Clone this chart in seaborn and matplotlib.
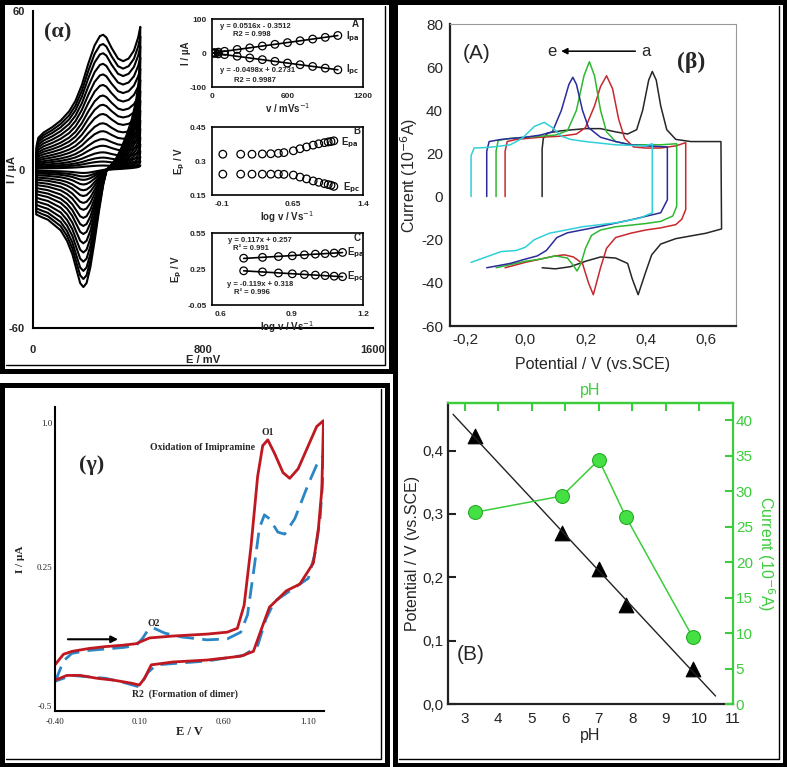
import matplotlib
matplotlib.use("Agg")
import matplotlib.pyplot as plt
from matplotlib.patches import Rectangle
from matplotlib.lines import Line2D
from matplotlib.ticker import FuncFormatter
import numpy as np
import seaborn as sns

# ---------------- panel (alpha): cyclic voltammograms at rising scan rate
# shape of the largest voltammogram (E in mV, I in uA)
alpha_E = [15, 17, 25, 50, 90, 130, 170, 200, 230, 260, 290, 315, 330, 345, 370, 400, 424, 450, 475, 495, 505,
           503, 497, 485, 465, 440, 415, 390, 365, 347, 330, 310, 290, 270, 252, 237, 222, 205, 185, 160, 130,
           100, 70, 40, 15, 15]
alpha_I = [0, 9, 12, 14, 16, 18.5, 22, 26, 32, 40, 47, 50.5, 51, 50, 46, 42, 41, 42, 45, 50, 54,
           42, 33, 26, 19, 13, 8, 4, 1.5, 0, -6, -16, -27, -37, -43, -44.5, -43, -38, -32, -27, -23,
           -21, -19, -18, -17, 0]
# anodic peak current of each voltammogram
alpha_ipa = [51, 47.5, 44, 40, 36, 32, 28, 24.5, 21, 17.5, 14.5, 11.5, 9, 6.5, 4.5, 3, 1.5]

# inset A: peak current vs scan rate
insA_v = [10, 25, 50, 100, 200, 300, 400, 500, 600, 700, 800, 900, 1000]
insA_ipa = [0.5, 1.0, 2.5, 5.0, 10.5, 15.0, 20.5, 25.5, 30.5, 36.0, 41.0, 46.0, 51.5]
insA_ipc = [-0.5, -1.0, -2.5, -4.8, -9.5, -14.5, -19.5, -24.5, -29.5, -34.5, -39.5, -44.5, -49.5]

# inset B: peak potential vs log v
insB_logv = [-0.09, 0.10, 0.22, 0.33, 0.42, 0.50, 0.56, 0.66, 0.73, 0.80, 0.87, 0.93, 0.99, 1.03, 1.06, 1.09]
insB_epa = [0.330, 0.330, 0.330, 0.331, 0.332, 0.334, 0.337, 0.345, 0.354, 0.362, 0.370, 0.376, 0.381, 0.384,
            0.386, 0.389]
insB_epc = [0.242, 0.242, 0.242, 0.242, 0.242, 0.242, 0.241, 0.238, 0.229, 0.221, 0.212, 0.206, 0.200, 0.196,
            0.193, 0.188]

# inset C: linear part of inset B
insC_logv = [0.699, 0.778, 0.845, 0.903, 0.954, 1.0, 1.041, 1.079, 1.114]
insC_epa = [0.340, 0.347, 0.354, 0.360, 0.368, 0.374, 0.378, 0.383, 0.388]
insC_epc = [0.235, 0.226, 0.217, 0.210, 0.204, 0.199, 0.195, 0.190, 0.186]

# ---------------- panel (beta) A: voltammograms a..e
a_E = [0.056, 0.056, 0.06, 0.075, 0.12, 0.20, 0.25, 0.30, 0.34, 0.37, 0.39, 0.41, 0.422, 0.435, 0.45, 0.47, 0.50,
       0.55, 0.65, 0.652, 0.60, 0.50, 0.45, 0.42, 0.40, 0.375, 0.355, 0.34, 0.30, 0.25, 0.20, 0.15, 0.10, 0.056]
a_I = [0, 22, 27, 29.5, 30.5, 31.5, 31.5, 30, 29, 31, 40, 54, 58, 54, 42, 31, 26.5, 25.5, 25.5, -15, -17, -19.5,
       -22, -27, -35, -45.5, -38, -31, -28.5, -28, -30, -32.5, -33.5, -33]
b_E = [-0.067, -0.067, -0.06, -0.03, 0.05, 0.12, 0.17, 0.20, 0.23, 0.25, 0.27, 0.29, 0.31, 0.33, 0.36, 0.40,
       0.45, 0.50, 0.533, 0.533, 0.52, 0.50, 0.45, 0.40, 0.35, 0.30, 0.27, 0.25, 0.226, 0.21, 0.19, 0.16, 0.13,
       0.10, 0.05, 0.0, -0.067]
b_I = [0, 21, 25.5, 26.5, 27.5, 28, 29, 32, 42, 51, 56, 50, 36, 27, 23, 22.5, 22.5, 23.5, 25, -6, -10.5, -13,
       -14.5, -15.5, -17, -19, -24, -33, -45.5, -40, -31, -28, -27, -27.5, -29, -30.5, -33]
c_E = [-0.097, -0.097, -0.09, -0.05, 0.05, 0.10, 0.14, 0.17, 0.195, 0.213, 0.23, 0.25, 0.27, 0.30, 0.35, 0.40,
       0.45, 0.503, 0.503, 0.49, 0.45, 0.40, 0.30, 0.25, 0.22, 0.20, 0.185, 0.172, 0.16, 0.14, 0.10, 0.05, 0.0,
       -0.097]
c_I = [0, 21, 26, 27, 28, 28.5, 30.5, 40, 56, 62.5, 56, 40, 30, 25.5, 24, 24, 24, 24.5, -4.5, -9, -11.5, -12.5,
       -14, -15.5, -18, -24, -31, -34.5, -32, -28.5, -27.5, -29, -30, -33]
d_E = [-0.128, -0.128, -0.12, -0.08, 0.0, 0.05, 0.09, 0.12, 0.145, 0.158, 0.17, 0.19, 0.21, 0.25, 0.30, 0.35,
       0.40, 0.472, 0.472, 0.45, 0.36, 0.25, 0.14, 0.105, 0.07, 0.04, 0.0, -0.05, -0.128]
d_I = [0, 21, 25.5, 26.5, 27.5, 28.5, 30, 40, 52, 55.3, 52, 40, 32, 27.5, 25.5, 24, 23.5, 23, -1.5, -7.5, -10.5,
       -13.8, -16.8, -19, -25, -27.5, -29, -31, -33]
e_E = [-0.18, -0.18, -0.17, -0.12, -0.05, -0.01, 0.03, 0.063, 0.09, 0.12, 0.15, 0.20, 0.30, 0.40, 0.422, 0.422,
       0.38, 0.31, 0.19, 0.08, 0.03, 0.0, -0.03, -0.08, -0.12, -0.18]
e_I = [0, 19, 22.5, 22.8, 24, 27, 32.5, 34.4, 32, 28, 26.5, 25.5, 24, 23.5, 24.5, -7.5, -10, -12, -14, -17, -20,
       -23.5, -25, -25.5, -27.5, -30.5]

# ---------------- panel (beta) B: effect of pH
ph = [3.3, 5.9, 7.0, 7.8, 9.8]
ph_potential = [0.423, 0.270, 0.213, 0.157, 0.056]
ph_current = [27.0, 29.3, 34.4, 26.4, 9.4]
fit_ph = [2.65, 10.48]

# ---------------- panel (gamma): imipramine voltammograms
g_red_E = [-0.40, -0.35, -0.30, -0.20, -0.10, 0.00, 0.08, 0.12, 0.16, 0.30, 0.50, 0.62, 0.68, 0.72, 0.76, 0.80,
           0.83, 0.86, 0.90, 0.95, 0.99, 1.04, 1.10, 1.15, 1.19, 1.18, 1.16, 1.13, 1.05, 0.97, 0.87, 0.82, 0.775,
           0.70, 0.50, 0.30, 0.17, 0.13, 0.10, 0.05, -0.05, -0.15, -0.25, -0.33, -0.40]
g_red_I = [-0.26, -0.205, -0.19, -0.175, -0.165, -0.158, -0.15, -0.135, -0.12, -0.11, -0.10, -0.09, -0.07, 0.05,
           0.35, 0.72, 0.88, 0.91, 0.84, 0.74, 0.71, 0.76, 0.88, 0.98, 1.01, 0.65, 0.45, 0.27, 0.16, 0.125, 0.04,
           -0.08, -0.19, -0.215, -0.235, -0.245, -0.26, -0.33, -0.365, -0.355, -0.34, -0.33, -0.315, -0.315, -0.34]
g_blue_E = [-0.40, -0.35, -0.30, -0.20, 0.00, 0.08, 0.12, 0.15, 0.18, 0.25, 0.35, 0.50, 0.62, 0.70, 0.74, 0.78,
            0.81, 0.84, 0.87, 0.92, 0.96, 1.02, 1.10, 1.15, 1.19, 1.185, 1.17, 1.14, 1.10, 1.00, 0.90, 0.85, 0.80,
            0.72, 0.50, 0.20, 0.15, 0.10, 0.00, -0.10, -0.30, -0.40]
g_blue_I = [-0.35, -0.24, -0.20, -0.185, -0.17, -0.16, -0.12, -0.08, -0.067, -0.095, -0.115, -0.13, -0.125, -0.09,
            0.0, 0.25, 0.45, 0.52, 0.50, 0.43, 0.42, 0.50, 0.68, 0.78, 0.83, 0.70, 0.50, 0.32, 0.19, 0.13, 0.07,
            -0.02, -0.16, -0.21, -0.24, -0.26, -0.30, -0.375, -0.35, -0.33, -0.315, -0.345]

# ------------------------------------------------------------------
sns.set_style("white")
plt.rcParams['font.family'] = ['Liberation Sans', 'DejaVu Sans']
plt.rcParams['axes.unicode_minus'] = False

W, H = 787, 767
fig = plt.figure(figsize=(W / 100, H / 100), dpi=100)


def px_axes(l, t, r, b):
    return fig.add_axes([l / W, 1 - b / H, (r - l) / W, (b - t) / H])


def ftext(x, y, s, **kw):
    fig.text(x / W, 1 - y / H, s, **kw)


comma = FuncFormatter(lambda v, p: f"{v:.1f}".replace('.', ','))
SERIF = 'Liberation Serif'

# panel frames: thick border with a thin shadow line inside right/bottom
for x0, y0, x1, y1 in [(2, 2, 391, 371), (2, 385, 387, 765), (395, 2, 785, 765)]:
    fig.add_artist(Rectangle((x0 / W, 1 - y1 / H), (x1 - x0) / W, (y1 - y0) / H, transform=fig.transFigure,
                             fill=False, lw=3.6, ec='k'))
    fig.add_artist(Line2D([(x1 - 6) / W, (x1 - 6) / W, (x0 + 4) / W],
                          [1 - (y0 + 4) / H, 1 - (y1 - 6) / H, 1 - (y1 - 6) / H],
                          transform=fig.transFigure, lw=1.0, color='k'))

# ================= panel alpha =================
ax = px_axes(33, 11, 373, 328)
for ipa in alpha_ipa:
    k = ipa / alpha_ipa[0]
    sns.lineplot(x=alpha_E, y=[k * i for i in alpha_I], sort=False, estimator=None, color='k', lw=1.5, ax=ax)
ax.set_xlim(0, 1600)
ax.set_ylim(-60, 60)
ax.set_xticks([0, 800, 1600])
ax.set_yticks([-60, 0, 60])
for s in ['top', 'right']:
    ax.spines[s].set_visible(False)
for s in ['left', 'bottom']:
    ax.spines[s].set_linewidth(1.5)
    ax.spines[s].set_color('k')
ax.tick_params(direction='out', length=3, width=1.2, labelsize=8, pad=3)
ax.tick_params(axis='x', pad=9)
for t in ax.get_xticklabels() + ax.get_yticklabels():
    t.set_fontweight('bold')
ax.set_xlabel('E / mV', fontsize=8, fontweight='bold')
ax.set_ylabel('I / µA', fontsize=8, fontweight='bold')
ax.xaxis.set_label_coords(0.5, -(355 - 328) / 317)
ax.yaxis.set_label_coords((17 - 33) / 340, 0.5)
ax.patch.set_alpha(0)
ftext(58, 32, '(α)', family=SERIF, fontweight='bold', fontsize=16, ha='center', va='center')


def inset(rect, xlim, ylim, xt, yt, xl, yl):
    a = px_axes(*rect)
    a.set_xlim(*xlim)
    a.set_ylim(*ylim)
    a.set_xticks(xt)
    a.set_yticks(yt)
    for s in a.spines.values():
        s.set_color('k')
        s.set_linewidth(1.2)
    a.tick_params(direction='out', length=2, width=0.8, labelsize=6, pad=2)
    for t in a.get_xticklabels() + a.get_yticklabels():
        t.set_fontweight('bold')
    a.set_xlabel(xl, fontsize=7, fontweight='bold', labelpad=1)
    a.set_ylabel(yl, fontsize=7, fontweight='bold', labelpad=2)
    return a


circ = dict(facecolors='none', edgecolors='k', s=30, linewidths=0.9, alpha=1)

axA = inset((212, 19, 363, 87), (0, 1200), (-100, 100), [0, 600, 1200], [-100, 0, 100],
            'v / mVs$^{-1}$', 'I / µA')
for yv in [insA_ipa, insA_ipc]:
    sns.regplot(x=insA_v, y=yv, ci=None, color='k', scatter_kws=circ, line_kws=dict(lw=1.2), ax=axA)
axA.set_xlabel('v / mVs$^{-1}$', fontsize=7, fontweight='bold', labelpad=1)
axA.set_ylabel('I / µA', fontsize=7, fontweight='bold', labelpad=-1)
ftext(255, 26, 'y = 0.0516x - 0.3512', fontsize=5.5, fontweight='bold', ha='center', va='center')
ftext(252, 34, 'R2 = 0.998', fontsize=5.5, fontweight='bold', ha='center', va='center')
ftext(258, 71, 'y = -0.0498x + 0.2731', fontsize=5.5, fontweight='bold', ha='center', va='center')
ftext(255, 80, 'R2 = 0.9987', fontsize=5.5, fontweight='bold', ha='center', va='center')
ftext(355, 24, 'A', fontsize=7, fontweight='bold', ha='center', va='center')
ftext(346, 37, r'I$_{\mathbf{pa}}$', fontsize=7, fontweight='bold', ha='left', va='center')
ftext(346, 70, r'I$_{\mathbf{pc}}$', fontsize=7, fontweight='bold', ha='left', va='center')

axB = inset((212, 127, 363, 195), (-0.205, 1.4), (0.15, 0.45), [-0.1, 0.65, 1.4], [0.15, 0.3, 0.45],
            'log v / Vs$^{-1}$', r'E$_{\mathbf{p}}$ / V')
for yv in [insB_epa, insB_epc]:
    sns.scatterplot(x=insB_logv, y=yv, marker='o', **circ, ax=axB)
axB.set_xticklabels(['-0.1', '0.65', '1.4'], fontweight='bold')
axB.set_yticklabels(['0.15', '0.3', '0.45'], fontweight='bold')
ftext(357, 131, 'B', fontsize=7, fontweight='bold', ha='center', va='center')
ftext(341, 143, r'E$_{\mathbf{pa}}$', fontsize=7, fontweight='bold', ha='left', va='center')
ftext(343, 188, r'E$_{\mathbf{pc}}$', fontsize=7, fontweight='bold', ha='left', va='center')

axC = inset((212, 233, 363, 305), (0.566, 1.2), (-0.05, 0.55), [0.6, 0.9, 1.2], [-0.05, 0.25, 0.55],
            'log v / Vs$^{-1}$', r'E$_{\mathbf{p}}$ / V')
for yv in [insC_epa, insC_epc]:
    sns.regplot(x=insC_logv, y=yv, ci=None, color='k', scatter_kws=circ, line_kws=dict(lw=1.2), ax=axC)
axC.set_xlabel('log v / Vs$^{-1}$', fontsize=7, fontweight='bold', labelpad=1)
axC.set_ylabel(r'E$_{\mathbf{p}}$ / V', fontsize=7, fontweight='bold', labelpad=2)
axC.set_xticklabels(['0.6', '0.9', '1.2'], fontweight='bold')
axC.set_yticklabels(['-0.05', '0.25', '0.55'], fontweight='bold')
ftext(357, 238, 'C', fontsize=7, fontweight='bold', ha='center', va='center')
ftext(347, 253, r'E$_{\mathbf{pa}}$', fontsize=7, fontweight='bold', ha='left', va='center')
ftext(347, 277, r'E$_{\mathbf{pc}}$', fontsize=7, fontweight='bold', ha='left', va='center')
ftext(260, 241, 'y = 0.117x + 0.257', fontsize=5.5, fontweight='bold', ha='center', va='center')
ftext(251, 248, 'R² = 0.991', fontsize=5.5, fontweight='bold', ha='center', va='center')
ftext(260, 285, 'y = -0.119x + 0.318', fontsize=5.5, fontweight='bold', ha='center', va='center')
ftext(252, 293, 'R² = 0.996', fontsize=5.5, fontweight='bold', ha='center', va='center')

# ================= panel beta, (A) =================
axb = px_axes(450, 24, 736, 326)
curves = [(a_E, a_I, '#262626'), (b_E, b_I, '#c8282d'), (c_E, c_I, '#2fb832'),
          (d_E, d_I, '#2b2b9c'), (e_E, e_I, '#30d0d8')]
for E, I, col in curves:
    sns.lineplot(x=E, y=I, sort=False, estimator=None, color=col, lw=1.1, ax=axb)
axb.set_xlim(-0.25, 0.7)
axb.set_ylim(-60, 80)
axb.set_xticks([-0.2, 0.0, 0.2, 0.4, 0.6])
axb.set_yticks(range(-60, 81, 20))
axb.xaxis.set_major_formatter(comma)
for s in ['left', 'bottom']:
    axb.spines[s].set_color('#222222')
    axb.spines[s].set_linewidth(1.6)
for s in ['top', 'right']:
    axb.spines[s].set_color('#999999')
    axb.spines[s].set_linewidth(0.8)
axb.tick_params(direction='out', length=3, width=1.2, labelsize=11, pad=2)
axb.set_xlabel('Potential / V (vs.SCE)', fontsize=11.5, labelpad=7)
axb.set_ylabel('Current (10$^{-6}$A)', fontsize=11.5, labelpad=1)
axb.text(-0.16, 66.5, '(A)', fontsize=15, ha='center', va='center')
axb.text(0.089, 67.4, 'e', fontsize=12, ha='center', va='center')
axb.text(0.402, 67.4, 'a', fontsize=12, ha='center', va='center')
axb.annotate('', xy=(0.11, 67.4), xytext=(0.375, 67.4),
             arrowprops=dict(arrowstyle='-|>', color='k', lw=1.1, mutation_scale=9))
axb.text(0.552, 62, '(β)', fontsize=17, family=SERIF, fontweight='bold', ha='center', va='center')

# ================= panel beta, (B) =================
green = '#3ccc3c'
axp = px_axes(448, 403, 733, 704)
fit = np.polyfit(ph, ph_potential, 1)
sns.lineplot(x=fit_ph, y=np.polyval(fit, fit_ph), color='#222222', lw=1.0, ax=axp)
sns.scatterplot(x=ph, y=ph_potential, marker='^', s=110, color='k', edgecolor='k', ax=axp)
axp.set_xlim(2.5, 11)
axp.set_ylim(0, 0.475)
axp.set_xticks(range(3, 12))
axp.set_yticks([0.0, 0.1, 0.2, 0.3, 0.4])
axp.yaxis.set_major_formatter(comma)
axp.tick_params(direction='in', length=6, width=1.5, labelsize=11, pad=3, colors='#222222')
axp.tick_params(axis='x', pad=6)
axp.set_xlabel('pH', fontsize=11.5, labelpad=1)
axp.set_ylabel('Potential / V (vs.SCE)', fontsize=11.5, labelpad=2)
for s in ['left', 'bottom']:
    axp.spines[s].set_color('#222222')
    axp.spines[s].set_linewidth(1.6)
axp.spines['right'].set_visible(False)
axp.spines['top'].set_color(green)
axp.spines['top'].set_linewidth(1.6)
axp.text(3.19, 0.078, '(B)', fontsize=15, ha='center', va='center')

top = axp.secondary_xaxis('top')
top.set_xticks(range(3, 12))
top.tick_params(direction='in', length=6, width=1.5, colors=green, labeltop=False)
top.spines['top'].set_color(green)
top.spines['top'].set_linewidth(1.6)
top.set_xlabel('pH', fontsize=11.5, color=green, labelpad=6)

axr = axp.twinx()
sns.lineplot(x=ph, y=ph_current, color=green, lw=1.1, marker='o', markersize=10,
             markerfacecolor='#44e044', markeredgecolor='#22a822', ax=axr)
axr.set_ylim(0, 42.4)
axr.set_yticks(range(0, 41, 5))
for s in ['left', 'bottom', 'top']:
    axr.spines[s].set_visible(False)
axr.spines['right'].set_color(green)
axr.spines['right'].set_linewidth(1.6)
axr.tick_params(direction='in', length=6, width=1.5, labelsize=11, pad=2, colors=green)
axr.set_ylabel('Current (10$^{-6}$A)', fontsize=11.5, color=green, rotation=270, labelpad=17)
axr.grid(False)

# ================= panel gamma =================
axg = px_axes(55, 407, 324, 711)
sns.lineplot(x=g_blue_E, y=g_blue_I, sort=False, estimator=None, color='#2a86c4', lw=2.0, ax=axg)
axg.lines[-1].set_dashes([6, 3])
sns.lineplot(x=g_red_E, y=g_red_I, sort=False, estimator=None, color='#c01820', lw=2.0, ax=axg)
axg.set_xlim(-0.4, 1.193)
axg.set_ylim(-0.5, 1.081)
axg.set_xticks([-0.4, 0.1, 0.6, 1.1])
axg.set_xticklabels(['-0.40', '0.10', '0.60', '1.10'])
axg.set_yticks([-0.5, 0.25, 1.0])
axg.set_yticklabels(['-0.5', '0.25', '1.0'])
for s in ['top', 'right']:
    axg.spines[s].set_visible(False)
for s in ['left', 'bottom']:
    axg.spines[s].set_color('k')
    axg.spines[s].set_linewidth(1.5)
axg.tick_params(direction='in', length=3, width=1, labelsize=6.5, pad=2)
axg.tick_params(axis='x', pad=5)
for t in axg.get_xticklabels() + axg.get_yticklabels():
    t.set_family(SERIF)
axg.get_yticklabels()[0].set_va('bottom')
axg.set_xlabel('E / V', fontsize=9, family=SERIF, fontweight='bold', labelpad=0)
axg.set_ylabel('I / µA', fontsize=8, family=SERIF, fontweight='bold', labelpad=8)
axg.text(0.163, 0.87, 'Oxidation of Imipramine', fontsize=7, family=SERIF, fontweight='bold',
         ha='left', va='center')
axg.text(0.862, 0.948, 'O1', fontsize=7, family=SERIF, fontweight='bold', ha='center', va='center')
axg.text(0.187, -0.044, 'O2', fontsize=7, family=SERIF, fontweight='bold', ha='center', va='center')
axg.text(0.054, -0.413, 'R2  (Formation of dimer)', fontsize=7, family=SERIF, fontweight='bold',
         ha='left', va='center')
axg.annotate('', xy=(-0.01, -0.127), xytext=(-0.34, -0.127),
             arrowprops=dict(arrowstyle='-|>', color='k', lw=1.5, mutation_scale=10))
axg.text(-0.183, 0.78, '(γ)', fontsize=16, family=SERIF, fontweight='bold', ha='center', va='center')

fig.savefig('out.png', dpi=100)
